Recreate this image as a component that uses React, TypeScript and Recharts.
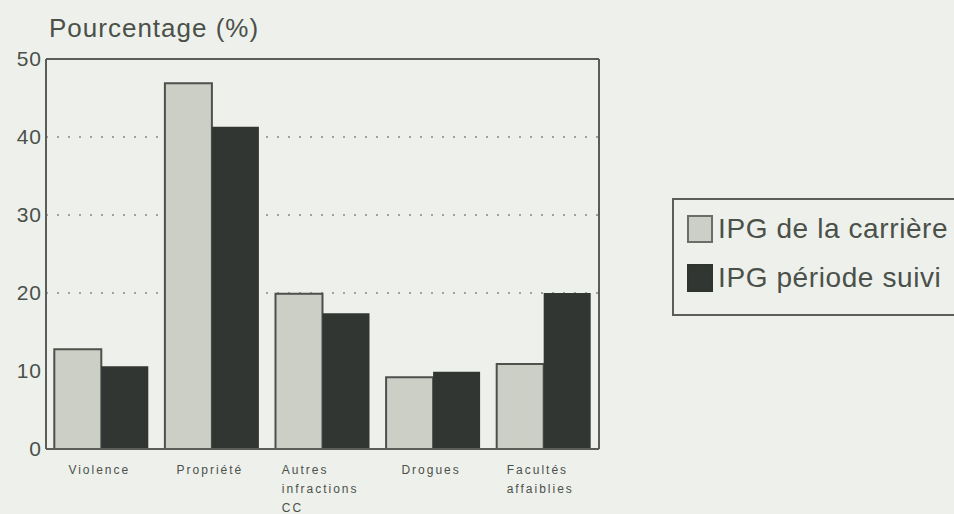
import React from "react";
import {
  BarChart,
  Bar,
  XAxis,
  YAxis,
  CartesianGrid,
  Legend,
  ReferenceLine,
} from "recharts";

const categories = [
  "Violence",
  "Propriété",
  "Autres\ninfractions\nCC",
  "Drogues",
  "Facultés\naffaiblies",
];
const carriere = [12.8, 46.9, 19.9, 9.2, 10.9];
const suivi = [10.6, 41.3, 17.4, 9.9, 20.0];
const yTicks = [0, 10, 20, 30, 40, 50];
const gridValues = [20, 30, 40];

const seriesNames = ["IPG de la carrière", "IPG période suivi"];

const data = categories.map((c, i) => ({
  cat: c,
  carriere: carriere[i],
  suivi: suivi[i],
}));

const INK = "#4b5049";
const FRAME = "#5a5d58";
const FONT = "'Liberation Sans', Arial, sans-serif";

const CatTick = (props: any) => {
  const { x, y, payload } = props;
  const lines: string[] = String(payload.value).split("\n");
  const multi = lines.length > 1;
  const longest = Math.max(...lines.map((l) => l.length));
  return (
    <g transform={`translate(${x},${y})`}>
      {lines.map((l, i) => (
        <text
          key={i}
          x={multi ? -longest * 3.7 : -2}
          y={17 + i * 19}
          textAnchor={multi ? "start" : "middle"}
          fill={INK}
          fontSize={12}
          letterSpacing={2}
          fontFamily={FONT}
        >
          {l}
        </text>
      ))}
    </g>
  );
};

const LegendBox = (props: any) => {
  const items = props.payload || [];
  return (
    <div
      style={{
        border: `2px solid ${FRAME}`,
        width: 330,
        height: 118,
        boxSizing: "border-box",
        paddingTop: 4,
        paddingLeft: 13,
        fontFamily: FONT,
      }}
    >
      {items.map((it: any, i: number) => (
        <div
          key={i}
          style={{
            display: "flex",
            alignItems: "center",
            height: 49,
            fontSize: 28,
            letterSpacing: 0.6,
            color: INK,
            whiteSpace: "nowrap",
          }}
        >
          <span
            style={{
              display: "inline-block",
              width: 26,
              height: 28,
              background: it.color,
              border: i === 0 ? "2px solid #6b6e68" : "2px solid #30342f",
              boxSizing: "border-box",
              marginRight: 5,
            }}
          />
          {it.value}
        </div>
      ))}
    </div>
  );
};

export default function App() {
  return (
    <div
      style={{
        position: "fixed",
        left: 0,
        top: 0,
        width: 954,
        height: 514,
        background: "#eef0ec",
        overflow: "hidden",
      }}
    >
      <div
        style={{
          position: "absolute",
          left: 49,
          top: 13,
          fontSize: 26,
          lineHeight: "30px",
          letterSpacing: 1,
          color: INK,
          fontFamily: FONT,
        }}
      >
        Pourcentage (%)
      </div>
      <BarChart
        width={954}
        height={514}
        data={data}
        margin={{ top: 59, right: 355, bottom: 0, left: 0 }}
        barCategoryGap="7.5%"
        barGap={0}
      >
        <CartesianGrid
          horizontal
          vertical={false}
          horizontalValues={gridValues}
          stroke="#858883"
          strokeDasharray="2 9"
          strokeWidth={1.5}
        />
        <XAxis
          dataKey="cat"
          height={65}
          interval={0}
          tick={<CatTick />}
          tickLine={false}
          axisLine={{ stroke: FRAME, strokeWidth: 2 }}
        />
        <YAxis
          width={46}
          domain={[0, 50]}
          ticks={yTicks}
          tickSize={0}
          tickMargin={4}
          tickLine={false}
          axisLine={{ stroke: FRAME, strokeWidth: 2 }}
          tick={{ fill: INK, fontSize: 21, fontFamily: FONT, letterSpacing: 1 }}
        />
        <ReferenceLine y={50} stroke={FRAME} strokeWidth={2} />
        <ReferenceLine
          x={categories[categories.length - 1]}
          position="end"
          stroke={FRAME}
          strokeWidth={2}
        />
        <Legend
          layout="vertical"
          align="center"
          verticalAlign="middle"
          content={<LegendBox />}
          wrapperStyle={{ left: 672, top: 198, width: 330, height: 118 }}
        />
        <Bar
          dataKey="carriere"
          name={seriesNames[0]}
          fill="#cbcfc6"
          stroke="#4d504b"
          strokeWidth={2}
          isAnimationActive={false}
        />
        <Bar
          dataKey="suivi"
          name={seriesNames[1]}
          fill="#323632"
          isAnimationActive={false}
        />
      </BarChart>
    </div>
  );
}
